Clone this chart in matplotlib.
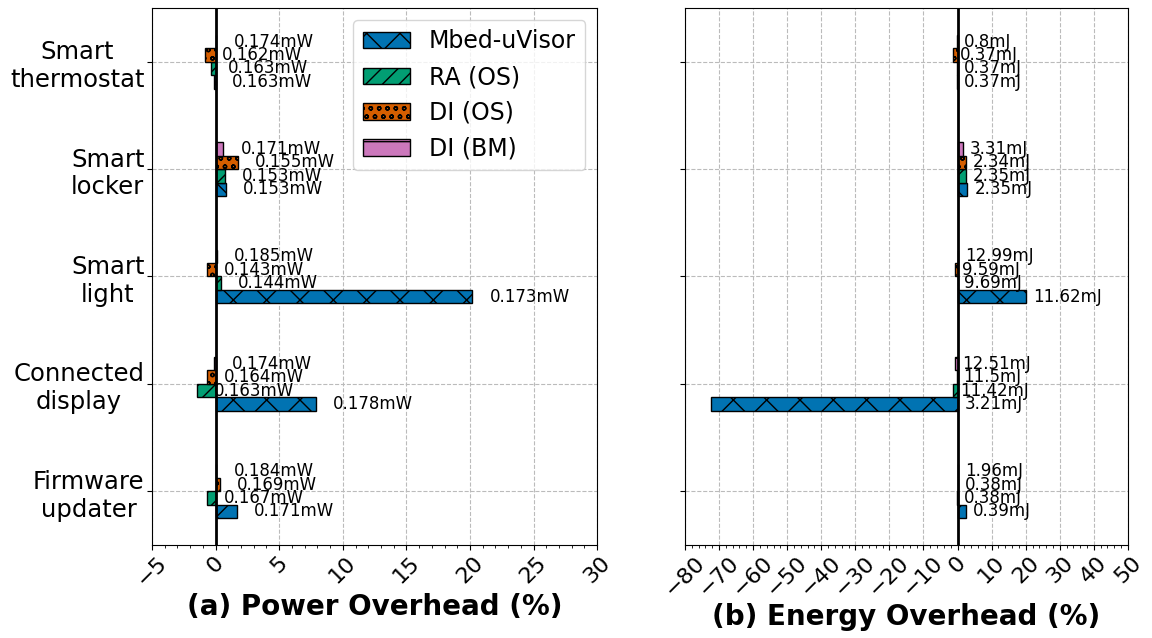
import matplotlib
matplotlib.use("Agg")
import matplotlib.pyplot as plt
import numpy as np
from matplotlib.ticker import MultipleLocator

# categories top -> bottom
categories = ["Smart\nthermostat", "Smart\nlocker", "Smart\nlight",
              "Connected\ndisplay", "Firmware\nupdater"]
series = ["Mbed-uVisor", "RA (OS)", "DI (OS)", "DI (BM)"]

# power overhead (%)
power_mbed = [-0.1, 0.8, 20.2, 7.9, 1.65]
power_ra = [-0.4, 0.75, 0.4, -1.5, -0.7]
power_dios = [-0.85, 1.75, -0.7, -0.7, 0.35]
power_dibm = [0.05, 0.6, 0.1, -0.1, 0.05]

power_lbl_mbed = ["0.163mW", "0.153mW", "0.173mW", "0.178mW", "0.171mW"]
power_lbl_ra = ["0.163mW", "0.153mW", "0.144mW", "0.163mW", "0.167mW"]
power_lbl_dios = ["0.162mW", "0.155mW", "0.143mW", "0.164mW", "0.169mW"]
power_lbl_dibm = ["0.174mW", "0.171mW", "0.185mW", "0.174mW", "0.184mW"]

# energy overhead (%)
energy_mbed = [-0.1, 2.9, 20.2, -72.4, 2.4]
energy_ra = [-0.2, 2.6, 0.0, -1.2, -0.2]
energy_dios = [-1.2, 2.6, -0.8, -0.3, 0.1]
energy_dibm = [-0.2, 1.5, 0.2, -0.8, 0.1]

energy_lbl_mbed = ["0.37mJ", "2.35mJ", "11.62mJ", "3.21mJ", "0.39mJ"]
energy_lbl_ra = ["0.37mJ", "2.35mJ", "9.69mJ", "11.42mJ", "0.38mJ"]
energy_lbl_dios = ["0.37mJ", "2.34mJ", "9.59mJ", "11.5mJ", "0.38mJ"]
energy_lbl_dibm = ["0.8mJ", "3.31mJ", "12.99mJ", "12.51mJ", "1.96mJ"]

colors = ["#0173B2", "#029E73", "#D55E00", "#CC78BC"]
hatches = ["x", "//", "oo", "-"]
offsets = [-1.5, -0.5, 0.5, 1.5]
h = 0.125


def panel(ax, vals, labels, xlim, major, minor, lbl_off, xlabel):
    pos = np.arange(len(categories))[::-1]
    for i, name in enumerate(series):
        y = pos + offsets[i] * h
        ax.barh(y, vals[i], height=h, color=colors[i], hatch=hatches[i],
                edgecolor="black", linewidth=1, label=name, zorder=3)
        for yy, v, t in zip(y, vals[i], labels[i]):
            x = v + lbl_off if v > -10 else lbl_off
            ax.text(x, yy, t, va="center", ha="left", fontsize=12, zorder=4)
    ax.axvline(0, color="black", lw=2, zorder=5)
    ax.set_xlim(*xlim)
    ax.set_ylim(-0.5, 4.5)
    ax.set_yticks(pos)
    ax.xaxis.set_major_locator(MultipleLocator(major))
    ax.xaxis.set_minor_locator(MultipleLocator(minor))
    ax.grid(True, linestyle="--", color="#bbbbbb", lw=0.8)
    ax.set_axisbelow(True)
    ax.tick_params(axis="x", labelsize=16, labelrotation=45, pad=2)
    ax.set_xlabel(xlabel, fontsize=20, fontweight="bold", labelpad=2)


fig = plt.figure(figsize=(11.52, 6.38), dpi=100)
axL = fig.add_axes([0.132, 0.1458, 0.3863, 0.8417])
axR = fig.add_axes([0.5946, 0.1458, 0.3845, 0.8417])

panel(axL, [power_mbed, power_ra, power_dios, power_dibm],
      [power_lbl_mbed, power_lbl_ra, power_lbl_dios, power_lbl_dibm],
      (-5, 30), 5, 1, 1.35, "(a) Power Overhead (%)")
panel(axR, [energy_mbed, energy_ra, energy_dios, energy_dibm],
      [energy_lbl_mbed, energy_lbl_ra, energy_lbl_dios, energy_lbl_dibm],
      (-80, 50), 10, 2, 2.0, "(b) Energy Overhead (%)")

axL.set_yticklabels(categories, fontsize=17.5, multialignment="center")
axL.tick_params(axis="y", pad=2)
axR.set_yticklabels([])
axL.legend(loc="upper right", fontsize=17)

fig.savefig("out.png", dpi=100)
